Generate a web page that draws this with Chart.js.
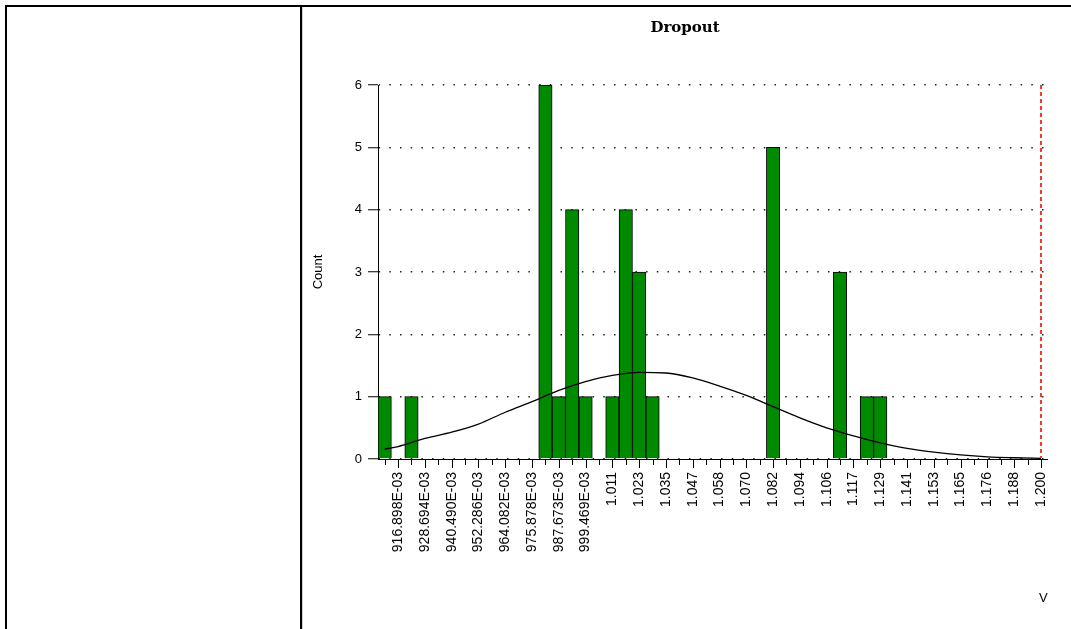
<!DOCTYPE html>
<html>
<head>
<meta charset="utf-8">
<title>Dropout</title>
<script src="https://cdn.jsdelivr.net/npm/chart.js@4.4.1/dist/chart.umd.min.js"></script>
<style>
  html, body { margin: 0; padding: 0; background: #fff; overflow: hidden; }
  #wrap { position: relative; width: 1071px; height: 629px; }
  #frame { position: absolute; left: 5px; top: 5px; width: 1100px; height: 700px;
           border-left: 2px solid #000; border-top: 2px solid #000; box-sizing: border-box; }
  #divider { position: absolute; left: 300px; top: 7px; width: 2px; height: 640px; background: #000; }
  #divider2 { position: absolute; left: 302px; top: 7px; width: 1px; height: 640px; background: #d0d0d0; }
  #chart { position: absolute; left: 0; top: 0; }
</style>
</head>
<body>
<div id="wrap">
  <div id="frame"></div>
  <div id="divider"></div>
  <div id="divider2"></div>
  <canvas id="chart" width="1071" height="629"></canvas>
</div>
<script>
// ========= data =========
// labelled tick values (every other bin centre)
const xTickLabels = [
  '916.898E-03', '928.694E-03', '940.490E-03', '952.286E-03', '964.082E-03',
  '975.878E-03', '987.673E-03', '999.469E-03', '1.011', '1.023', '1.035',
  '1.047', '1.058', '1.070', '1.082', '1.094', '1.106', '1.117', '1.129',
  '1.141', '1.153', '1.165', '1.176', '1.188', '1.200'
];
// histogram counts, one per bin (50 bins)
const binCounts = [
  1, 0, 1, 0, 0, 0, 0, 0, 0, 0,
  0, 0, 6, 1, 4, 1, 0, 1, 4, 3,
  1, 0, 0, 0, 0, 0, 0, 0, 0, 5,
  0, 0, 0, 0, 3, 0, 1, 1, 0, 0,
  0, 0, 0, 0, 0, 0, 0, 0, 0, 0
];
// fitted curve (null = not read, line spans it)
const curveValues = [
  0.16, 0.20, null, 0.33, null, 0.43, null, 0.56, null, 0.75,
  null, 0.92, null, 1.10, null, 1.24, null, 1.34, null, 1.39,
  null, 1.38, null, 1.30, null, 1.17, null, 1.02, null, 0.84,
  null, 0.66, null, 0.50, null, 0.37, null, 0.26, null, 0.17,
  null, 0.11, null, 0.065, null, 0.035, null, 0.02, null, 0.01
];
const yTicks = [0, 1, 2, 3, 4, 5, 6];
const limitLabel = '1.200';

// category per bin: odd bins carry the printed label
const categories = binCounts.map((_, i) => (i % 2 ? xTickLabels[(i - 1) / 2] : ''));

// ========= plugins =========
const axisMarks = {
  id: 'axisMarks',
  afterDraw(chart) {
    const { ctx, chartArea } = chart;
    const x = chart.scales.x;
    const y0 = Math.round(chart.scales.y.getPixelForValue(0));
    ctx.save();
    ctx.strokeStyle = '#000';
    ctx.lineWidth = 1;
    categories.forEach((lab, i) => {
      const px = Math.round(x.getPixelForValue(i)) + 0.5;
      ctx.beginPath();
      ctx.moveTo(px, y0);
      ctx.lineTo(px, y0 + (lab ? 9 : 6));
      ctx.stroke();
    });
    // spec limit (dashed red)
    const lx = Math.round(x.getPixelForValue(categories.indexOf(limitLabel)));
    ctx.strokeStyle = '#f03c28';
    ctx.lineWidth = 2;
    ctx.setLineDash([4, 3]);
    ctx.beginPath();
    ctx.moveTo(lx, chartArea.top);
    ctx.lineTo(lx, y0 - 1);
    ctx.stroke();
    ctx.restore();
  }
};

const smallFont = { family: 'Liberation Sans', size: 13 };

new Chart(document.getElementById('chart'), {
  data: {
    labels: categories,
    datasets: [
      {
        type: 'line',
        data: curveValues,
        order: 0,
        borderColor: '#000',
        borderWidth: 1.3,
        pointRadius: 0,
        spanGaps: true,
        cubicInterpolationMode: 'monotone',
        fill: false
      },
      {
        type: 'bar',
        data: binCounts,
        order: 1,
        backgroundColor: '#008a00',
        borderColor: '#000',
        borderWidth: 1,
        barPercentage: 1,
        categoryPercentage: 1
      }
    ]
  },
  options: {
    responsive: false,
    animation: false,
    layout: { padding: { left: 303, right: 4, top: 7, bottom: 0 } },
    plugins: {
      legend: { display: false },
      tooltip: { enabled: false },
      title: {
        display: true,
        text: 'Dropout',
        color: '#000',
        font: { family: 'DejaVu Serif', size: 15, weight: 'bold' },
        padding: { top: 12, bottom: 48 }
      }
    },
    scales: {
      x: {
        type: 'category',
        offset: true,
        grid: { display: false, drawTicks: false },
        border: { display: true, color: '#000', width: 1 },
        ticks: {
          autoSkip: false,
          minRotation: 90,
          maxRotation: 90,
          padding: 13,
          color: '#000',
          font: { family: 'Liberation Sans', size: 14 }
        },
        title: {
          display: true,
          text: 'V',
          align: 'end',
          color: '#000',
          font: smallFont,
          padding: { top: 0, bottom: 23 }
        },
        afterFit(s) { s.height = 170; }
      },
      y: {
        min: 0,
        max: 6,
        afterBuildTicks(s) { s.ticks = yTicks.map(v => ({ value: v })); },
        ticks: { color: '#000', font: smallFont, padding: 6 },
        grid: {
          color: '#222',
          lineWidth: 1.5,
          drawTicks: true,
          tickLength: 10,
          tickColor: '#000',
          tickWidth: 1,
          tickBorderDash: []
        },
        border: { display: true, color: '#000', width: 1, dash: [1.5, 9.2], dashOffset: 0.4 },
        title: {
          display: true,
          text: 'Count',
          color: '#000',
          font: smallFont,
          padding: { top: 8, bottom: 0 }
        },
        afterFit(s) { s.width = 75; }
      },
      yR: {
        type: 'linear',
        position: 'right',
        display: true,
        grid: { display: false, drawTicks: false },
        border: { display: false },
        ticks: { display: false },
        afterFit(s) { s.width = 19; }
      }
    }
  },
  plugins: [axisMarks]
});
</script>
</body>
</html>
